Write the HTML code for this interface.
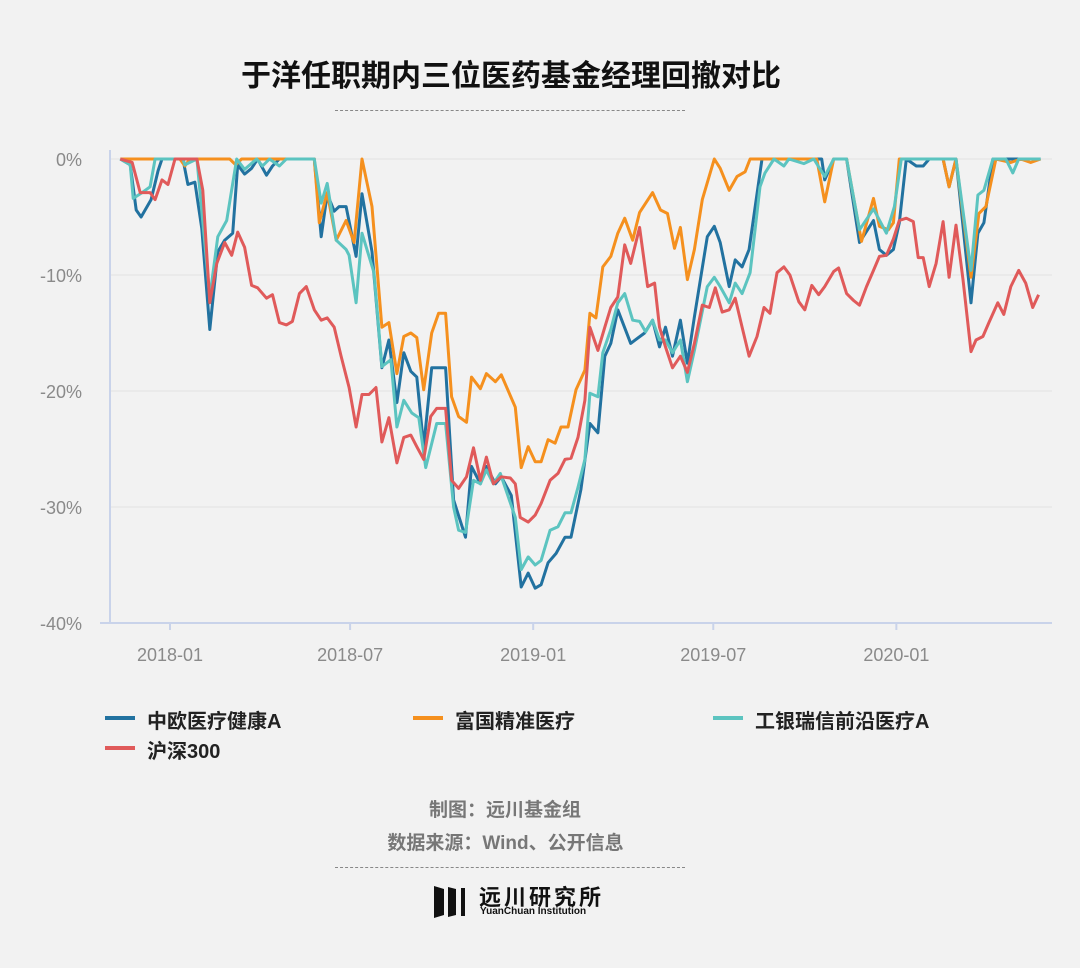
<!DOCTYPE html>
<html><head><meta charset="utf-8">
<style>
html,body{margin:0;padding:0;background:#f2f2f2;}
body{width:1080px;height:968px;position:relative;overflow:hidden;font-family:"Liberation Sans","Noto Sans CJK SC",sans-serif;}
.t{position:absolute;white-space:nowrap;}
</style></head><body>
<div class="t" style="left:0;width:1022px;top:51px;text-align:center;font-size:30px;font-weight:bold;color:#111;">于洋任职期内三位医药基金经理回撤对比</div>
<div style="position:absolute;left:335px;top:110px;width:350px;border-top:1px dashed #888;"></div>
<svg id="chart" width="1080" height="690" style="position:absolute;left:0;top:0"></svg>

<div>
<div><div style="position:absolute;left:105px;top:716px;width:30px;height:4px;background:#2272a0"></div><div class="t" style="left:147px;top:705px;font-size:20px;font-weight:bold;color:#222">中欧医疗健康A</div></div>
<div><div style="position:absolute;left:413px;top:716px;width:30px;height:4px;background:#f5901e"></div><div class="t" style="left:455px;top:705px;font-size:20px;font-weight:bold;color:#222">富国精准医疗</div></div>
<div><div style="position:absolute;left:713px;top:716px;width:30px;height:4px;background:#5cc4c0"></div><div class="t" style="left:755px;top:705px;font-size:20px;font-weight:bold;color:#222">工银瑞信前沿医疗A</div></div>
<div><div style="position:absolute;left:105px;top:746px;width:30px;height:4px;background:#e05a5a"></div><div class="t" style="left:147px;top:735px;font-size:20px;font-weight:bold;color:#222">沪深300</div></div>
</div>

<div class="t" style="left:0;width:1010px;top:795px;text-align:center;font-size:19px;font-weight:bold;color:#777">制图：远川基金组</div>
<div class="t" style="left:0;width:1011px;top:828px;text-align:center;font-size:19px;font-weight:bold;color:#777">数据来源：Wind、公开信息</div>
<div style="position:absolute;left:335px;top:867px;width:350px;border-top:1px dashed #888;"></div>
<div>
<svg style="position:absolute;left:434px;top:884px" width="40" height="34"><polygon points="0,2 10,5 10,31 0,34" fill="#111"/><polygon points="14,3 22,5 22,31 14,33" fill="#111"/><rect x="27" y="4" width="4" height="28" fill="#111"/></svg>
<div class="t" style="left:479px;top:880px;font-size:22px;font-weight:bold;color:#111;letter-spacing:3px">远川研究所</div>
<div class="t" style="left:480px;top:906px;font-size:10px;font-weight:bold;color:#111">YuanChuan Institution</div>
</div>

<script>
// days since 2018-01-01
const tickDays = [0, 181, 365, 546, 730];
const tickLabels = ["2018-01", "2018-07", "2019-01", "2019-07", "2020-01"];
const yTicks = [0, -10, -20, -30, -40];
const yTickLabels = ["0%", "-10%", "-20%", "-30%", "-40%"];
const seriesNames = ["中欧医疗健康A", "富国精准医疗", "工银瑞信前沿医疗A", "沪深300"];
const zhongou = [[-50,0],[-40,-0.5],[-34,-4.4],[-29,-5],[-19,-3.5],[-12,-1],[-8,0],[13,0],[18,-2.2],[25,-2],[32,-6],[40,-14.7],[48,-8],[55,-7],[63,-6.4],[68,-0.5],[75,-1.3],[82,-0.8],[88,0],[97,-1.4],[103,-0.6],[110,0],[145,0],[152,-6.7],[158,-3],[165,-4.5],[170,-4.1],[177,-4.1],[187,-8.4],[193,-3],[203,-8],[213,-18],[220,-15.6],[228,-21],[235,-16.7],[242,-18.3],[248,-18.8],[255,-24.8],[263,-18],[270,-18],[277,-18],[285,-29.4],[297,-32.6],[303,-26.5],[312,-28],[318,-26.5],[327,-28],[333,-27.4],[343,-29],[353,-36.9],[360,-35.7],[367,-37],[373,-36.7],[380,-34.8],[388,-34],[397,-32.6],[403,-32.6],[413,-28.5],[422,-22.8],[430,-23.6],[437,-17],[443,-15.9],[450,-13],[463,-15.9],[477,-15],[485,-13.9],[492,-16.2],[498,-14.5],[505,-17],[513,-13.9],[520,-17.6],[527,-13.6],[540,-6.7],[547,-5.8],[553,-7.2],[562,-11],[568,-8.7],[575,-9.3],[582,-7.8],[590,-3],[595,0],[655,0],[658,-1.8],[667,0],[680,0],[693,-7.2],[707,-5.3],[713,-7.8],[720,-8.3],[727,-7.8],[733,-5.5],[740,0],[750,-0.6],[757,-0.6],[763,0],[777,0],[783,-2.4],[790,0],[805,-12.4],[812,-6.4],[818,-5.5],[827,0],[875,0]];
const fuguo = [[-50,0],[10,0],[15,-0.6],[20,0],[60,0],[66,-0.5],[72,0],[145,0],[150,-5.5],[158,-2.9],[167,-7],[177,-5.3],[185,-7.2],[193,0],[203,-4.1],[213,-14.5],[220,-14.1],[228,-18.5],[235,-15.3],[242,-15],[248,-15.4],[255,-19.9],[263,-15],[270,-13.3],[277,-13.3],[283,-20.5],[290,-22.2],[298,-22.7],[303,-18.8],[312,-19.8],[318,-18.5],[327,-19.2],[333,-18.6],[347,-21.4],[353,-26.6],[360,-24.8],[367,-26.1],[373,-26.1],[380,-24.2],[387,-24.5],[393,-23.1],[400,-23.1],[408,-19.9],[417,-18.2],[422,-13.3],[428,-13.7],[435,-9.3],[443,-8.4],[450,-6.4],[457,-5.1],[465,-7],[472,-4.6],[485,-2.9],[493,-4.4],[500,-4.7],[507,-7.7],[513,-5.9],[520,-10.4],[527,-7.8],[535,-3.5],[547,0],[553,-0.8],[562,-2.7],[570,-1.5],[578,-1.1],[583,0],[650,0],[658,-3.7],[667,0],[680,0],[695,-7.1],[707,-3.4],[713,-5.8],[722,-6.1],[727,-5.5],[733,0],[777,0],[783,-2.4],[790,0],[805,-10.2],[813,-4.7],[820,-4.1],[830,0],[845,-0.3],[855,0],[865,-0.3],[875,0]];
const gongyin = [[-50,0],[-40,-0.5],[-37,-3.4],[-28,-2.9],[-20,-2.4],[-15,0],[13,0],[15,-0.5],[27,0],[40,-11.9],[48,-6.7],[57,-5.3],[67,0],[75,-0.9],[87,0],[93,-0.6],[100,0],[110,-0.6],[117,0],[145,0],[152,-3.8],[158,-2.1],[167,-7],[177,-7.8],[180,-8.3],[187,-12.4],[193,-6.4],[205,-9.8],[213,-17.9],[222,-17.3],[228,-23.1],[235,-20.8],[243,-21.9],[250,-22.3],[257,-26.6],[268,-22.8],[277,-22.8],[285,-30],[290,-32],[297,-32.2],[305,-27.7],[312,-28],[318,-26.8],[325,-28],[332,-27.1],[347,-30.9],[353,-35.4],[360,-34.3],[367,-35],[373,-34.6],[382,-32],[390,-31.7],[397,-30.5],[403,-30.5],[410,-28.3],[417,-25.9],[422,-20.2],[430,-20.5],[435,-16.7],[443,-14.7],[450,-12.4],[457,-11.6],[465,-13.9],[472,-14],[478,-14.9],[485,-13.9],[492,-15.6],[498,-15.6],[505,-16.7],[513,-15.6],[520,-19.2],[527,-16.5],[540,-11],[547,-10.2],[553,-11],[562,-12.4],[568,-10.7],[575,-11.6],[583,-9.8],[593,-2.4],[598,-1.2],[607,0],[617,-0.6],[622,0],[637,-0.4],[647,0],[658,-1.5],[667,0],[680,0],[693,-6.1],[707,-4.3],[720,-6.4],[728,-4.1],[735,0],[790,0],[805,-9.6],[812,-3.1],[818,-2.7],[827,0],[840,0],[847,-1.2],[853,0],[875,0]];
const hs300 = [[-50,0],[-38,-0.3],[-30,-2.9],[-20,-2.9],[-15,-3.5],[-8,-1.8],[-2,-2.2],[5,0],[27,0],[33,-2.7],[40,-12.4],[47,-9],[55,-7.2],[62,-8.3],[68,-6.3],[75,-7.6],[82,-10.9],[88,-11.1],[97,-12],[103,-11.7],[110,-14.1],[117,-14.3],[123,-14],[130,-11.6],[137,-11],[145,-13],[152,-13.9],[158,-13.7],[165,-14.5],[172,-17],[180,-19.7],[187,-23.1],[193,-20.3],[200,-20.3],[207,-19.7],[213,-24.4],[220,-22.3],[228,-26.2],[235,-24],[242,-23.8],[248,-24.8],[255,-25.9],[262,-22.2],[268,-21.5],[277,-21.5],[283,-27.7],[290,-28.4],[298,-27.4],[305,-24.9],[312,-27.7],[318,-25.7],[325,-28],[333,-27.4],[342,-27.5],[347,-28],[352,-30.9],[360,-31.3],[367,-30.7],[373,-29.7],[382,-27.7],[390,-27.1],[397,-25.9],[403,-25.8],[410,-24],[417,-20.8],[422,-14.5],[430,-16.5],[437,-14.5],[443,-12.8],[450,-11.9],[457,-7.4],[463,-9],[472,-5.9],[480,-11],[487,-10.7],[492,-14.5],[498,-16.2],[505,-18],[513,-17],[520,-18.4],[527,-15.9],[535,-12.6],[542,-12.8],[548,-11.1],[555,-13.2],[562,-13],[568,-12],[575,-14.5],[582,-17],[590,-15.3],[597,-12.8],[603,-13.3],[610,-9.8],[617,-9.3],[623,-10],[632,-12.3],[638,-13],[645,-10.9],[652,-11.7],[658,-11],[667,-9.7],[672,-9.4],[680,-11.6],[687,-12.2],[693,-12.6],[700,-11],[707,-9.6],[713,-8.4],[720,-8.3],[727,-6.9],[733,-5.3],[740,-5.1],[747,-5.4],[752,-8.5],[757,-8.5],[763,-11],[770,-9],[777,-5.4],[783,-10.2],[790,-5.7],[797,-10.4],[805,-16.6],[810,-15.6],[817,-15.3],[823,-14.1],[832,-12.4],[838,-13.4],[845,-11],[853,-9.6],[860,-10.7],[867,-12.8],[873,-11.7]];

const NS = "http://www.w3.org/2000/svg";
const svg = document.getElementById("chart");
const xS = d => 170 + d * 0.995;
const yS = v => 159 - v * 11.6;
function mk(tag, attrs, parent) {
  const e = document.createElementNS(NS, tag);
  for (const k in attrs) e.setAttribute(k, attrs[k]);
  (parent || svg).appendChild(e);
  return e;
}
yTicks.forEach((v, i) => {
  const g = mk("line", {x1: 110, x2: 1052, y1: yS(v), y2: yS(v), stroke: "#e2e2e2", "stroke-width": 1});
  
  
  const t = mk("text", {x: 82, y: yS(v) + 7, "text-anchor": "end", "font-size": 18, fill: "#8a8a8a", "font-family": "Liberation Sans, sans-serif"});
  t.textContent = yTickLabels[i];
  
  
});
const ya = mk("line", {x1: 110, x2: 110, y1: 150, y2: 623, stroke: "#c9d3ea", "stroke-width": 2});


const xa = mk("line", {x1: 100, x2: 1052, y1: 623, y2: 623, stroke: "#c9d3ea", "stroke-width": 2});


tickDays.forEach((d, i) => {
  const tk = mk("line", {x1: xS(d), x2: xS(d), y1: 623, y2: 630, stroke: "#c9d3ea", "stroke-width": 2});
  
  
  const t = mk("text", {x: xS(d), y: 661, "text-anchor": "middle", "font-size": 18, fill: "#8a8a8a", "font-family": "Liberation Sans, sans-serif"});
  t.textContent = tickLabels[i];
  
  
});
const series = [[zhongou, "#2272a0", "line-zhongou"], [fuguo, "#f5901e", "line-fuguo"], [gongyin, "#5cc4c0", "line-gongyin"], [hs300, "#e05a5a", "line-hs300"]];
series.forEach(s => {
  const p = mk("polyline", {points: s[0].map(q => xS(q[0]).toFixed(1) + "," + yS(q[1]).toFixed(1)).join(" "), fill: "none", stroke: s[1], "stroke-width": 3, "stroke-linejoin": "round"});
  
  
});
</script>
</body></html>
